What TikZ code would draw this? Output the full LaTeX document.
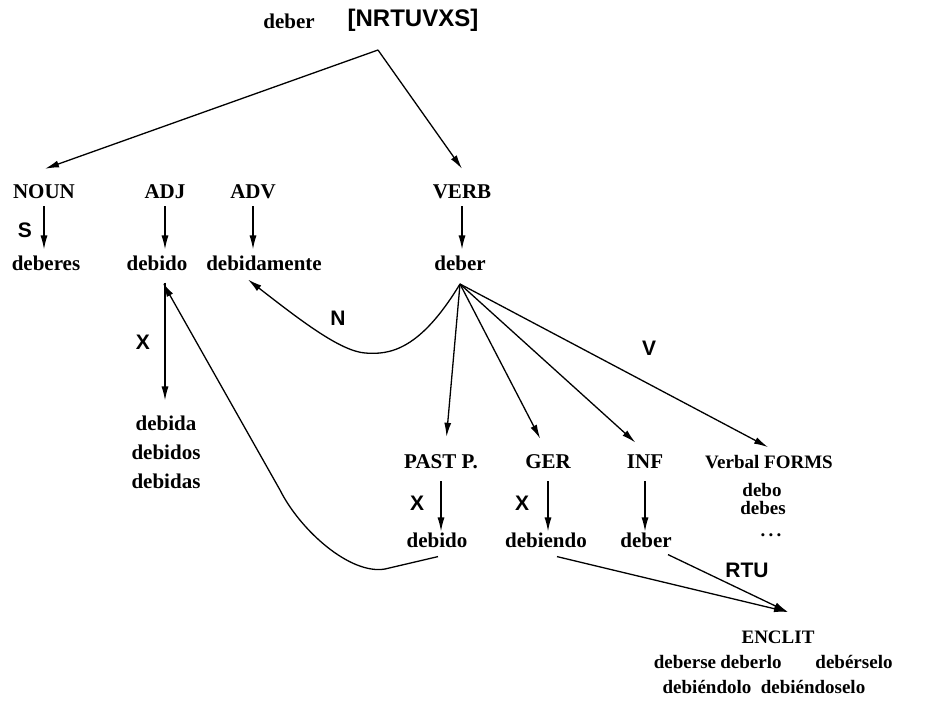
\documentclass[tikz,border=0pt]{standalone}
\usepackage{fontspec}
\setmainfont{Liberation Serif}
\setsansfont{Liberation Sans}
\usetikzlibrary{arrows.meta,calc,positioning}
\tikzset{
  wort/.style={font=\bfseries\fontsize{21}{23}\selectfont, inner sep=1pt},
  kwort/.style={font=\bfseries\fontsize{19}{21}\selectfont, inner sep=0pt},
  marke/.style={font=\sffamily\bfseries\fontsize{21}{23}\selectfont, inner sep=1pt},
  pfeil/.style={-{Latex[length=14pt,width=7pt]}, line width=1.3pt},
}
\begin{document}
\begin{tikzpicture}[x=1pt,y=-1pt]
\useasboundingbox (0,0) rectangle (931,705);
%Wurzel oben
\node[wort] (wurzel) at (289,21) {deber};
\node[marke,font=\sffamily\bfseries\fontsize{24}{26}\selectfont] (flags) at (413,20) {[NRTUVXS]};
\coordinate (root) at (378,50);
%erste Ebene
\node[wort] (noun) at (44,192) {NOUN};
\node[wort] (adj) at (165,192) {ADJ};
\node[wort] (adv) at (253,192) {ADV};
\node[wort] (verb) at (462,192) {VERB};
\node[wort] (deberes) at (46,263) {deberes};
\node[wort] (adjdeb) at (157,263) {debido};
\node[wort] (debidamente) at (264,263) {debidamente};
\node[wort] (verbdeb) at (460,263) {deber};
\node[wort] (debida) at (166,423) {debida};
\node[wort] (debidos) at (166,452) {debidos};
\node[wort] (debidas) at (166,481) {debidas};
%Verbformen
\node[wort] (pastp) at (441,462) {PAST P.};
\node[wort] (ger) at (548,462) {GER};
\node[wort] (inf) at (645,462) {INF};
\node[kwort] (verbal) at (769,462) {Verbal FORMS};
\node[kwort] (debo) at (762,490) {debo};
\node[kwort] (debes) at (763,508) {debes};
\node[kwort] (punkte) at (771,535) {.\,.\,.};
\node[wort] (ppdeb) at (437,540) {debido};
\node[wort] (debiendo) at (546,540) {debiendo};
\node[wort] (infdeb) at (646,540) {deber};
%Enklitika
\node[kwort] (enclit) at (778,637) {ENCLIT};
\node[kwort] (deberse) at (685,662) {deberse};
\node[kwort] (deberlo) at (751,662) {deberlo};
\node[kwort] (debrselo) at (854,662) {debérselo};
\node[kwort] (debndolo) at (707,687) {debiéndolo};
\node[kwort] (debndselo) at (813,687) {debiéndoselo};
%Markierungen
\node[marke] (mS) at (25,230) {S};
\node[marke] (mX1) at (143,342) {X};
\node[marke] (mN) at (338,318) {N};
\node[marke] (mV) at (649,348) {V};
\node[marke] (mX2) at (417,503) {X};
\node[marke] (mX3) at (522,503) {X};
\node[marke] (mRTU) at (747,570) {RTU};
%Hilfspunkte
\coordinate (vfan) at (460,284);
\coordinate (enc) at (788,612);
\coordinate (adjtip) at (163,283);
%Pfeile
\draw[pfeil] (root) -- ($(noun.north)+(1,-15)$);
\draw[pfeil] (root) -- ($(verb.north)+(0,-15)$);
\foreach \a/\b in {noun/deberes,adj/adjdeb,adv/debidamente,verb/verbdeb}{
  \draw[pfeil,shorten <=6pt,shorten >=5pt] (\a.south) -- (\a.south |- \b.north);
}
\foreach \a/\b in {pastp/ppdeb,ger/debiendo,inf/infdeb}{
  \draw[pfeil,shorten <=11pt,shorten >=0pt] (\a.south) -- (\a.south |- \b.north);
}
\draw[pfeil,shorten <=11pt,shorten >=14pt] (adj.south |- adjdeb.south) -- (adj.south |- debida.north);
\draw[pfeil,shorten >=17pt] (vfan) -- ($(pastp.north)+(4,0)$);
\draw[pfeil,shorten >=17pt] (vfan) -- (ger.north);
\draw[pfeil,shorten >=17pt] (vfan) -- ($(inf.north)+(3,0)$);
\draw[pfeil,shorten >=17pt] (vfan) -- ($(verbal.north)+(14,0)$);
\draw[pfeil] (vfan) .. controls (420,350) and (390,355) .. (365,353)
  .. controls (340,351) and (300,320) .. ($(debidamente.south)+(-16,8)$);
\draw[pfeil] ($(ppdeb.south)+(1,8)$) -- (385,569) .. controls (350,575) and (300,530) .. (280,490) -- (adjtip);
\draw[pfeil] ($(debiendo.south)+(11,8)$) -- (enc);
\draw[pfeil] ($(infdeb.south)+(22,6)$) -- (enc);
\end{tikzpicture}
\end{document}
